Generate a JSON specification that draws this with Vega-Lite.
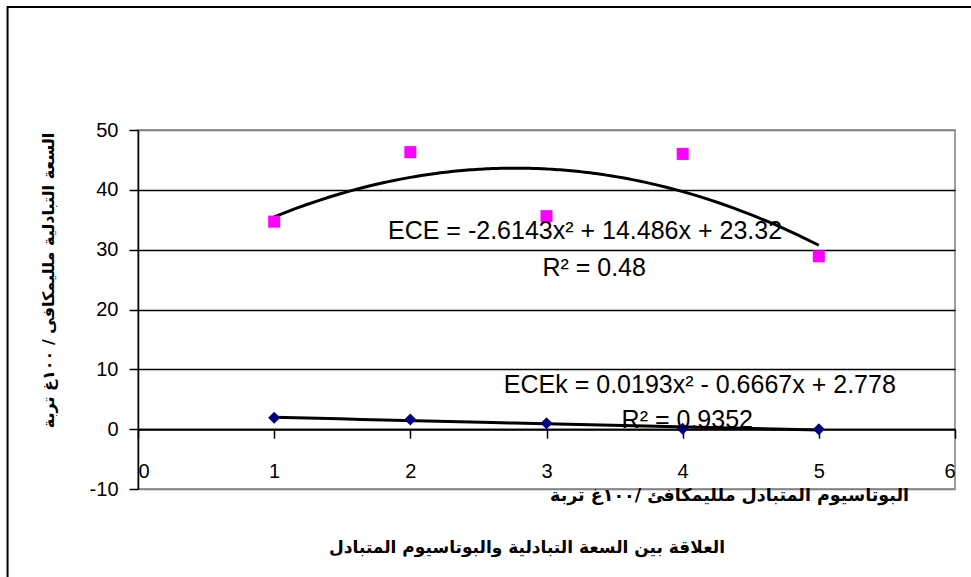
{
  "$schema": "https://vega.github.io/schema/vega-lite/v6.json",
  "autosize": "none",
  "width": 817,
  "height": 359,
  "padding": {"left": 138, "top": 130, "right": 16, "bottom": 88},
  "background": "white",
  "config": {
    "view": {"stroke": "#808080", "strokeWidth": 1.5},
    "axis": {
      "labelFont": "Liberation Sans",
      "labelFontSize": 20,
      "labelColor": "black",
      "domainColor": "black",
      "domainWidth": 1.5,
      "tickColor": "black",
      "tickWidth": 1.5,
      "tickSize": 9,
      "labelExpr": "datum.value + ''"
    }
  },
  "datasets": {
    "points": [
      {"x": 1, "y": 34.7, "series": "ECE"},
      {"x": 2, "y": 46.3, "series": "ECE"},
      {"x": 3, "y": 35.6, "series": "ECE"},
      {"x": 4, "y": 46.0, "series": "ECE"},
      {"x": 5, "y": 28.9, "series": "ECE"},
      {"x": 1, "y": 1.9, "series": "ECEk"},
      {"x": 2, "y": 1.6, "series": "ECEk"},
      {"x": 3, "y": 1.0, "series": "ECEk"},
      {"x": 4, "y": 0.05, "series": "ECEk"},
      {"x": 5, "y": 0.0, "series": "ECEk"}
    ],
    "labels": [
      {"label": "ECE = -2.6143x² + 14.486x + 23.32", "lx": 3.283, "ly": 31.74},
      {"label": "R² = 0.48", "lx": 3.35, "ly": 25.61},
      {"label": "ECEk = 0.0193x² - 0.6667x + 2.778", "lx": 4.126, "ly": 6.01},
      {"label": "R² = 0.9352", "lx": 4.034, "ly": 0.22}
    ]
  },
  "layer": [
    {
      "data": {"values": [{}]},
      "mark": {"type": "rect", "fill": null, "stroke": "black", "strokeWidth": 2, "clip": false},
      "encoding": {
        "x": {"datum": -0.958, "type": "quantitative"},
        "x2": {"datum": 7},
        "y": {"datum": 70.56, "type": "quantitative"},
        "y2": {"datum": -30}
      }
    },
    {
      "data": {"values": [{}]},
      "mark": {"type": "text", "font": "DejaVu Sans", "fontSize": 17, "fontWeight": "bold", "color": "black", "align": "center", "baseline": "middle", "clip": false},
      "encoding": {
        "x": {"datum": 2.857, "type": "quantitative"},
        "y": {"datum": -19.86, "type": "quantitative"},
        "text": {"value": "العلاقة بين السعة التبادلية والبوتاسيوم المتبادل"}
      }
    },
    {
      "data": {"name": "points"},
      "transform": [
        {"regression": "y", "on": "x", "method": "poly", "order": 2, "groupby": ["series"]}
      ],
      "mark": {"type": "line", "color": "black", "strokeWidth": 3},
      "encoding": {
        "x": {
          "field": "x", "type": "quantitative",
          "scale": {"domain": [0, 6], "nice": false, "zero": false},
          "axis": {
            "values": [0, 1, 2, 3, 4, 5, 6],
            "offset": -59.8,
            "labelPadding": 23,
            "grid": false,
            "domainWidth": 2,
            "title": "البوتاسيوم المتبادل ملليمكافئ /١٠٠غ تربة",
            "titleFont": "DejaVu Sans",
            "titleFontSize": 17.5,
            "titleFontWeight": "bold",
            "titleColor": "black",
            "titleAlign": "center",
            "titleBaseline": "middle",
            "titleX": 591,
            "titleY": 66
          }
        },
        "y": {
          "field": "y", "type": "quantitative",
          "scale": {"domain": [-10, 50], "nice": false, "zero": false},
          "axis": {
            "values": [-10, 0, 10, 20, 30, 40, 50],
            "labelPadding": 11,
            "grid": true,
            "gridWidth": 1.5,
            "gridColor": {"condition": {"test": "datum.value >= 50 || datum.value <= -10", "value": "#808080"}, "value": "black"},
            "title": "السعة التبادلية ملليمكافى / ١٠٠غ تربة",
            "titleFont": "DejaVu Sans",
            "titleFontSize": 16,
            "titleFontWeight": "bold",
            "titleColor": "black",
            "titleAngle": -90,
            "titleAlign": "center",
            "titleBaseline": "middle",
            "titleX": -90,
            "titleY": 150
          }
        },
        "detail": {"field": "series"}
      }
    },
    {
      "data": {"name": "points"},
      "mark": {"type": "point", "filled": true, "opacity": 1, "size": 144},
      "encoding": {
        "x": {"field": "x", "type": "quantitative"},
        "y": {"field": "y", "type": "quantitative"},
        "color": {"field": "series", "type": "nominal", "scale": {"domain": ["ECE", "ECEk"], "range": ["#FF00FF", "#000080"]}, "legend": null},
        "shape": {"field": "series", "type": "nominal", "scale": {"domain": ["ECE", "ECEk"], "range": ["square", "diamond"]}, "legend": null}
      }
    },
    {
      "data": {"name": "labels"},
      "mark": {"type": "text", "font": "Liberation Sans", "fontSize": 25, "color": "black", "align": "center", "baseline": "alphabetic"},
      "encoding": {
        "x": {"field": "lx", "type": "quantitative"},
        "y": {"field": "ly", "type": "quantitative"},
        "text": {"field": "label"}
      }
    }
  ]
}
